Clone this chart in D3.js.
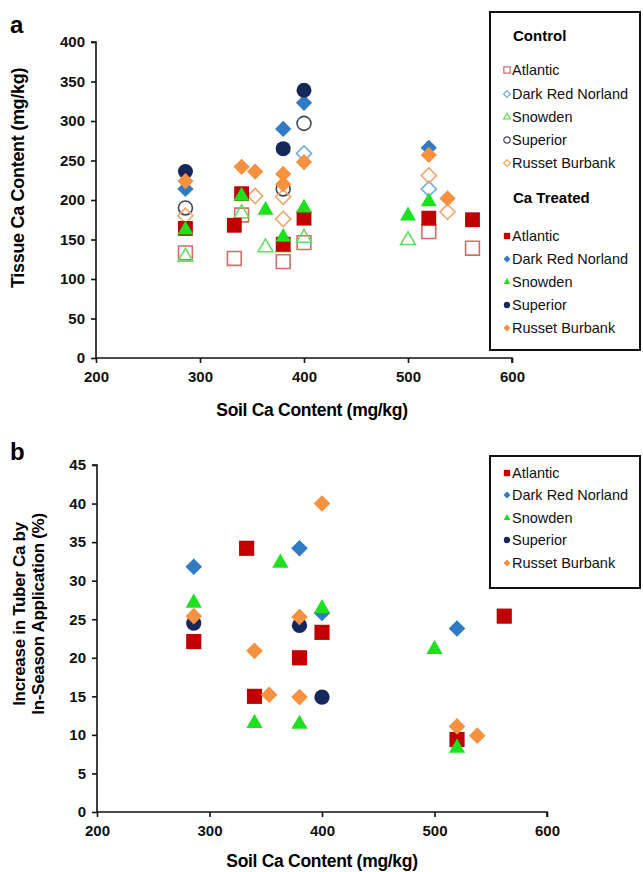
<!DOCTYPE html>
<html>
<head>
<meta charset="utf-8">
<script src="https://cdn.jsdelivr.net/npm/d3@7"></script>
<style>
  body { margin: 0; background: #fff; }
  svg text { font-family: "Liberation Sans", Arial, sans-serif; }
  .tick text { font-weight: bold; font-size: 15px; }
</style>
</head>
<body>
<div id="chart"></div>
<script>
// varieties and their look
var varieties = ["Atlantic", "Dark Red Norland", "Snowden", "Superior", "Russet Burbank"];
var filledColors = ["#c00000", "#2f7cc4", "#1fe01f", "#14285a", "#f6913f"];
var openColors = ["#d86a6a", "#6aaee6", "#62de62", "#404858", "#f2a66e"];
var shapes = ["square", "diamond", "triangle", "circle", "diamond"];

// panel a: soil Ca (x) vs tissue Ca (y), control
var ctrlAtlantic = [[286, 133], [333, 126], [340, 181], [380, 122], [400, 146], [520, 160], [562, 139]];
var ctrlNorland = [[400, 259], [520, 214]];
var ctrlSnowden = [[286, 128], [340, 183], [363, 140], [380, 140], [400, 152], [500, 149]];
var ctrlSuperior = [[286, 190], [380, 214], [400, 297]];
var ctrlRusset = [[286, 180], [353, 205], [380, 204], [380, 176], [520, 231], [538, 185]];

// panel a: Ca treated
var trtAtlantic = [[286, 164], [333, 168], [340, 208], [380, 144], [400, 177], [520, 177], [562, 175]];
var trtNorland = [[286, 214], [380, 290], [400, 323], [520, 266]];
var trtSnowden = [[286, 162], [340, 205], [363, 187], [380, 153], [400, 190], [500, 180], [520, 198]];
var trtSuperior = [[286, 236], [380, 265], [400, 339]];
var trtRusset = [[286, 224], [340, 242], [353, 236], [380, 233], [380, 220], [400, 248], [520, 257], [538, 202]];

// panel b: increase in tuber Ca (%)
var incAtlantic = [[286, 22.1], [333, 34.2], [340, 15.0], [380, 20.0], [400, 23.3], [520, 9.4], [562, 25.4]];
var incNorland = [[286, 31.8], [380, 34.2], [400, 25.8], [520, 23.8]];
var incSnowden = [[286, 27.1], [340, 11.5], [363, 32.3], [380, 11.4], [400, 26.4], [500, 21.1], [520, 8.3]];
var incSuperior = [[286, 24.5], [380, 24.2], [400, 14.9]];
var incRusset = [[286, 25.4], [340, 20.9], [353, 15.2], [380, 25.3], [380, 14.9], [400, 40.0], [520, 11.1], [538, 9.9]];

var xTicks = [200, 300, 400, 500, 600];
var yTicksA = [0, 50, 100, 150, 200, 250, 300, 350, 400];
var yTicksB = [0, 5, 10, 15, 20, 25, 30, 35, 40, 45];

var svg = d3.select("#chart").append("svg")
  .attr("width", 643)
  .attr("height", 872);

function symbolPath(shape, size) {
  // diamonds are squares turned 45 degrees
  var type = {square: d3.symbolSquare, diamond: d3.symbolSquare,
              triangle: d3.symbolTriangle, circle: d3.symbolCircle}[shape];
  var area = {square: 1, diamond: 0.6, triangle: 0.5, circle: 0.8}[shape] * size;
  return d3.symbol().type(type).size(area)();
}

function drawPoints(g, data, x, y, i, filled, size) {
  g.selectAll(null)
    .data(data)
    .enter()
    .append("path")
    .attr("d", symbolPath(shapes[i], size))
    .attr("transform", d => `translate(${x(d[0])},${y(d[1])})` + (shapes[i] === "diamond" ? " rotate(45)" : ""))
    .attr("fill", filled ? filledColors[i] : "none")
    .attr("stroke", filled ? "none" : openColors[i])
    .attr("stroke-width", filled ? 0 : 1.6);
}

function drawAxes(x, y, yTicks) {
  var xAxis = svg.append("g")
    .attr("transform", `translate(0,${y.range()[0]})`)
    .call(d3.axisBottom(x).tickValues(xTicks).tickSize(5).tickPadding(8));
  var yAxis = svg.append("g")
    .attr("transform", `translate(${x.range()[0]},0)`)
    .call(d3.axisLeft(y).tickValues(yTicks).tickSize(5).tickPadding(6));
  [xAxis, yAxis].forEach(a => {
    a.selectAll("path, line").attr("stroke", "#111").attr("stroke-width", 1.6);
    a.select(".domain").attr("d", a === xAxis
      ? `M${x.range()[0]},0H${x.range()[1]}V5`
      : `M0,${y.range()[0]}V${y.range()[1]}H-5`);
    a.selectAll("text").attr("fill", "#111");
  });
}

function legendItem(g, px, py, i, filled, small) {
  g.append("path")
    .attr("d", symbolPath(shapes[i], small))
    .attr("transform", `translate(${px},${py})` + (shapes[i] === "diamond" ? " rotate(45)" : ""))
    .attr("fill", filled ? filledColors[i] : "none")
    .attr("stroke", filled ? "none" : openColors[i])
    .attr("stroke-width", 1.2);
  g.append("text")
    .attr("x", px + 5)
    .attr("y", py + 5)
    .attr("font-size", "14.5px")
    .attr("fill", "#111")
    .text(varieties[i]);
}

// ---------- panel a ----------
var xA = d3.scaleLinear().domain([200, 600]).range([96, 512]);
var yA = d3.scaleLinear().domain([0, 400]).range([358, 42]);

drawAxes(xA, yA, yTicksA);

var ptsA = svg.append("g");
[ctrlAtlantic, ctrlNorland, ctrlSnowden, ctrlSuperior, ctrlRusset]
  .forEach((s, i) => drawPoints(ptsA, s, xA, yA, i, false, 190));
[trtAtlantic, trtNorland, trtSnowden, trtSuperior, trtRusset]
  .forEach((s, i) => drawPoints(ptsA, s, xA, yA, i, true, 220));

svg.append("text")
  .attr("x", 10).attr("y", 33)
  .attr("font-size", "24px").attr("font-weight", "bold")
  .text("a");

svg.append("text")
  .attr("x", 312).attr("y", 416)
  .attr("text-anchor", "middle")
  .attr("font-size", "17.5px").attr("font-weight", "bold")
  .attr("letter-spacing", "-0.3px")
  .text("Soil Ca Content (mg/kg)");

svg.append("text")
  .attr("transform", "translate(24,178) rotate(-90)")
  .attr("text-anchor", "middle")
  .attr("font-size", "18px").attr("font-weight", "bold")
  .attr("letter-spacing", "-0.3px")
  .text("Tissue Ca Content (mg/kg)");

var legA = svg.append("g");
legA.append("rect")
  .attr("x", 490).attr("y", 12).attr("width", 150).attr("height", 338)
  .attr("fill", "#fff").attr("stroke", "#111").attr("stroke-width", 2);
legA.append("text")
  .attr("x", 513).attr("y", 41)
  .attr("font-family", "Lato, 'Open Sans', sans-serif")
  .attr("font-size", "15px").attr("font-weight", "bold")
  .text("Control");
[70, 94, 117, 140, 163].forEach((py, i) => legendItem(legA, 507, py, i, false, 40));
legA.append("text")
  .attr("x", 513).attr("y", 203)
  .attr("font-family", "Lato, 'Open Sans', sans-serif")
  .attr("font-size", "15px").attr("font-weight", "bold")
  .text("Ca Treated");
[236, 259, 282, 305, 328].forEach((py, i) => legendItem(legA, 507, py, i, true, 40));

// ---------- panel b ----------
var xB = d3.scaleLinear().domain([200, 600]).range([97, 547]);
var yB = d3.scaleLinear().domain([0, 45]).range([812, 465]);

drawAxes(xB, yB, yTicksB);

var ptsB = svg.append("g");
[incAtlantic, incNorland, incSnowden, incSuperior, incRusset]
  .forEach((s, i) => drawPoints(ptsB, s, xB, yB, i, true, 230));

svg.append("text")
  .attr("x", 10).attr("y", 460)
  .attr("font-size", "24px").attr("font-weight", "bold")
  .text("b");

svg.append("text")
  .attr("x", 322).attr("y", 867)
  .attr("text-anchor", "middle")
  .attr("font-size", "17.5px").attr("font-weight", "bold")
  .attr("letter-spacing", "-0.3px")
  .text("Soil Ca Content (mg/kg)");

var yLabB = svg.append("text")
  .attr("transform", "translate(0,614) rotate(-90)")
  .attr("text-anchor", "middle")
  .attr("font-size", "17px").attr("font-weight", "bold")
  .attr("letter-spacing", "-0.3px");
yLabB.append("tspan").attr("x", 0).attr("y", 25).text("Increase in Tuber Ca by");
yLabB.append("tspan").attr("x", 0).attr("y", 44).text("In-Season Application (%)");

var legB = svg.append("g");
legB.append("rect")
  .attr("x", 490).attr("y", 456).attr("width", 150).attr("height", 132)
  .attr("fill", "#fff").attr("stroke", "#111").attr("stroke-width", 2);
[473, 495, 518, 540, 563].forEach((py, i) => legendItem(legB, 507, py, i, true, 40));
</script>
</body>
</html>
